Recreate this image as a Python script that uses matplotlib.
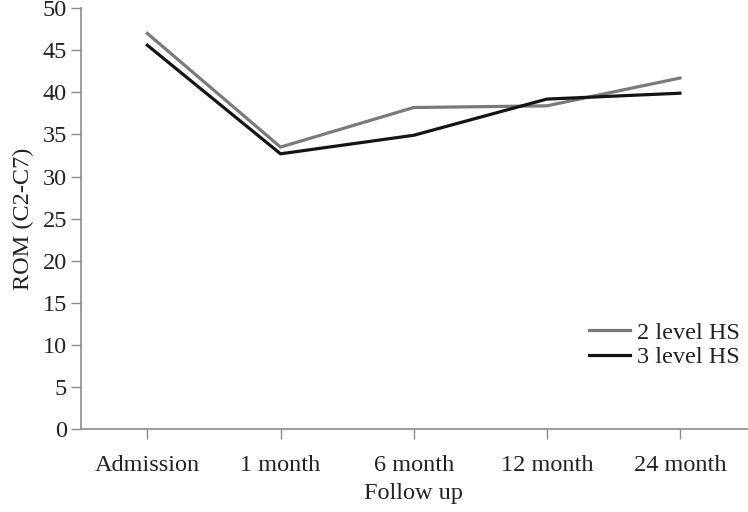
import matplotlib.pyplot as plt
import numpy as np

plt.rcParams['font.family'] = ['Liberation Serif', 'DejaVu Serif']

follow_up = ["Admission", "1 month", "6 month", "12 month", "24 month"]
level2 = [47.0, 33.5, 38.2, 38.4, 41.7]
level3 = [45.6, 32.7, 34.9, 39.2, 39.9]

fig = plt.figure(figsize=(7.48, 5.12), dpi=100)
ax = fig.add_axes([0.108, 0.162, 0.89, 0.822])

x = np.arange(len(follow_up)) + 0.5
ax.plot(x, level2, color="#7a7a7a", lw=2.3, label="2 level HS")
ax.plot(x, level3, color="#141414", lw=2.3, label="3 level HS")

ax.set_xlim(0, 5)
ax.set_ylim(0, 50)
ax.set_yticks(range(0, 51, 5))
ax.set_xticks(x)
ax.set_xticklabels(follow_up)

for s in ["top", "right"]:
    ax.spines[s].set_visible(False)
for s in ["left", "bottom"]:
    ax.spines[s].set_color("#8c8c8c")
    ax.spines[s].set_linewidth(1.2)
ax.tick_params(axis="both", colors="#8c8c8c", labelcolor="#222222",
               labelsize=17.5, length=7, width=1.0)
ax.tick_params(axis="x", pad=12)
ax.tick_params(axis="y", pad=3)

ax.set_xlabel("Follow up", fontsize=17.5, color="#222222", labelpad=5)
ax.set_ylabel("ROM (C2-C7)", fontsize=17.5, color="#222222", labelpad=6)

ax.legend(loc="center left", bbox_to_anchor=(0.73, 0.2), frameon=False,
          fontsize=17.5, handlelength=1.7, handletextpad=0.3, labelspacing=0.1,
          labelcolor="#222222")

fig.savefig("out.png", dpi=100)
